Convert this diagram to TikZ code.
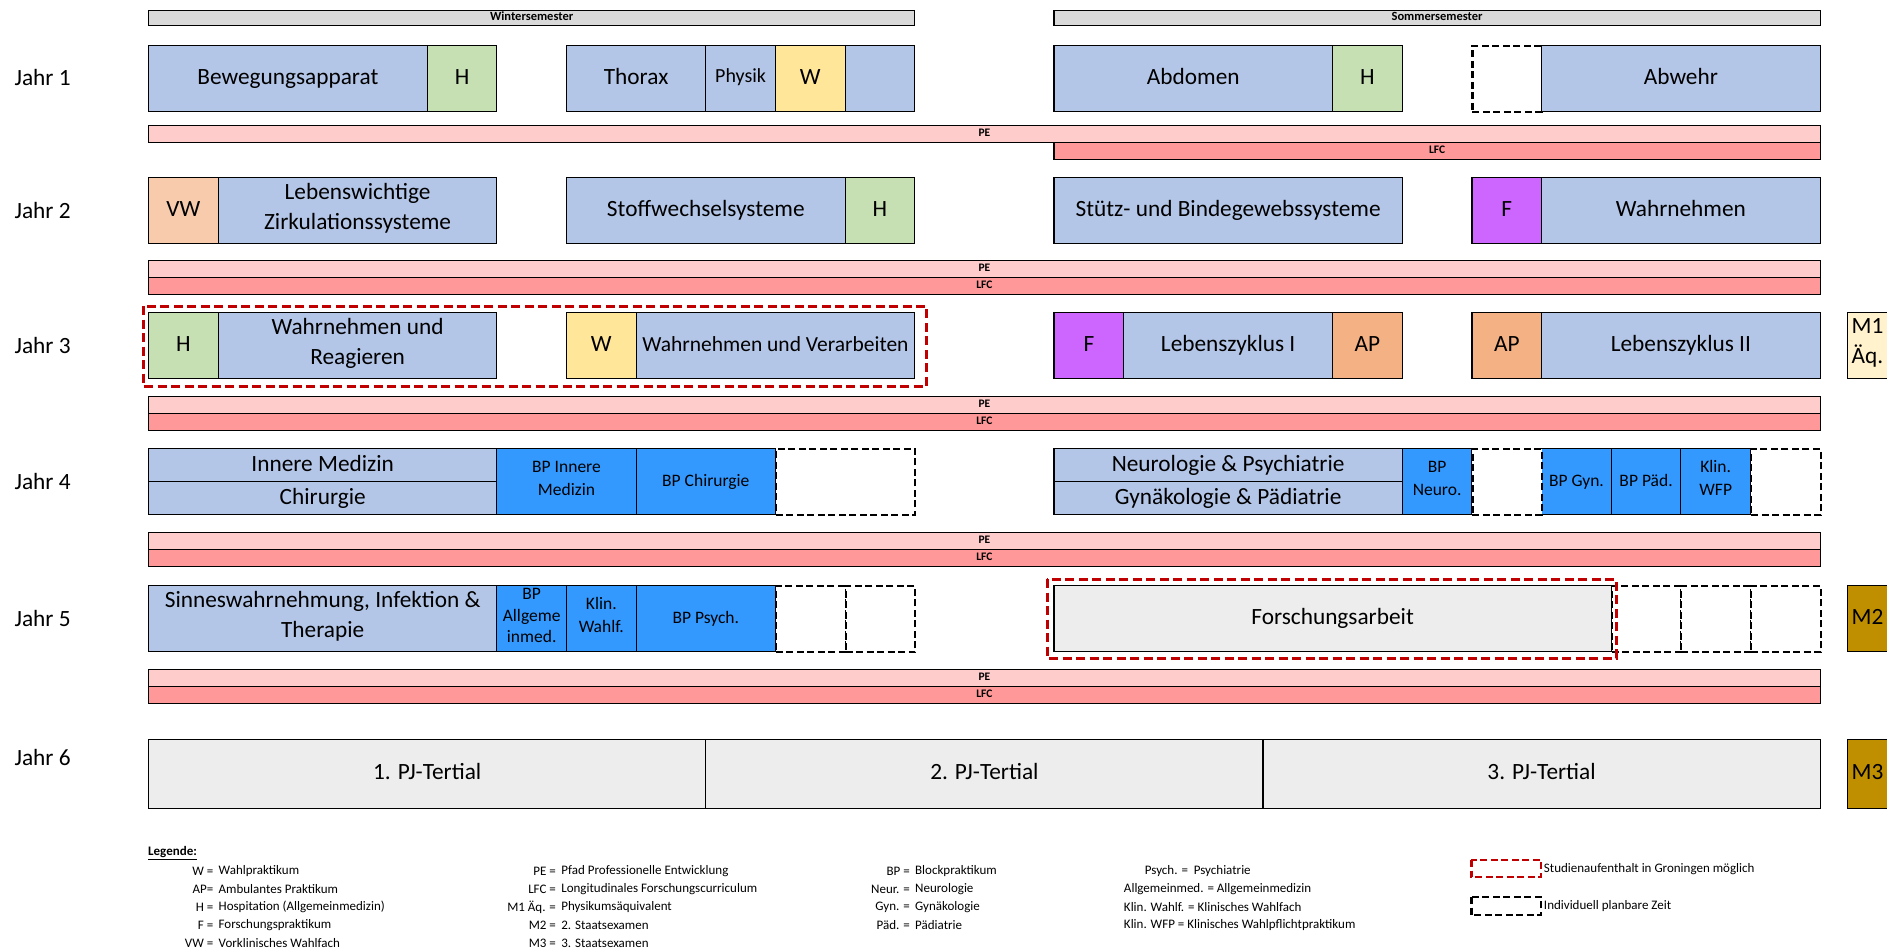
\documentclass[tikz,border=0pt]{standalone}
\usepackage{fontspec}
\setmainfont{Carlito}
\definecolor{modblue}{RGB}{180, 198, 231}
\definecolor{hospgreen}{RGB}{198, 224, 180}
\definecolor{wahlyellow}{RGB}{255, 230, 153}
\definecolor{vwpeach}{RGB}{248, 203, 173}
\definecolor{aporange}{RGB}{244, 177, 131}
\definecolor{fpurple}{RGB}{204, 102, 255}
\definecolor{bpblue}{RGB}{51, 153, 255}
\definecolor{pepink}{RGB}{255, 204, 204}
\definecolor{lfcred}{RGB}{255, 153, 153}
\definecolor{semgrey}{RGB}{217, 217, 217}
\definecolor{pjgrey}{RGB}{237, 237, 237}
\definecolor{mcream}{RGB}{255, 242, 204}
\definecolor{mgold}{RGB}{191, 143, 0}
\definecolor{grored}{RGB}{192, 0, 0}
\usetikzlibrary{positioning}

\begin{document}
\begin{tikzpicture}[x=69.647pt, y=-1pt,
  blk/.style={draw, line width=1.2pt, inner sep=0pt, anchor=north west, align=center,
    minimum height=66pt, fill=modblue, font=\fontsize{23.3}{30}\selectfont,
    execute at begin node=\strut, execute at end node=\strut},
  wd/.style={minimum width=#1*69.647pt},
  smallfs/.style={font=\fontsize{17.5}{23}\selectfont},
  halfh/.style={minimum height=33pt},
  freebox/.style={blk, fill=white, line width=2.2pt, dash pattern=on 7pt off 3.5pt},
  strip/.style={blk, minimum height=17pt, font=\bfseries\fontsize{11.5}{12}\selectfont},
  grobox/.style={draw=grored, line width=3pt, dash pattern=on 9pt off 4.5pt},
  jahrlbl/.style={anchor=west, inner sep=0pt, font=\fontsize{23.3}{28}\selectfont},
  lgkey/.style={anchor=east, inner sep=0pt, font=\fontsize{13}{15}\selectfont},
  lgtext/.style={anchor=west, inner sep=0pt, font=\fontsize{13}{15}\selectfont}]
  \useasboundingbox (-2.125,0) rectangle (24.968,950);

  % semesters
  \node[strip, wd=11, fill=semgrey, minimum height=15pt, font=\bfseries\fontsize{12.5}{13}\selectfont] (ws) at (0,10) {Wintersemester};
  \node[strip, wd=11, fill=semgrey, minimum height=15pt, font=\bfseries\fontsize{12.5}{13}\selectfont] (ss) at (13,10) {Sommersemester};

  % Jahr 1
  \node[jahrlbl] (j1) at (-1.918,77.5) {Jahr 1};
  \node[blk, wd=4] (bew) at (0,44.5) {Bewegungsapparat};
  \node[blk, wd=1, fill=hospgreen] (h1a) at (4,44.5) {H};
  \node[blk, wd=2] (tho) at (6,44.5) {Thorax};
  \node[blk, wd=1, font=\fontsize{20}{24}\selectfont] (phy) at (8,44.5) {Physik};
  \node[blk, wd=1, fill=wahlyellow] (w1) at (9,44.5) {W};
  \node[blk, wd=1] (bl1) at (10,44.5) {};
  \node[blk, wd=4] (abd) at (13,44.5) {Abdomen};
  \node[blk, wd=1, fill=hospgreen] (h1b) at (17,44.5) {H};
  \node[freebox, wd=1] (fr1) at (19,44.5) {};
  \node[blk, wd=4] (abw) at (20,44.5) {Abwehr};
  \node[strip, wd=24, fill=pepink] (pe1) at (0,125) {PE};
  \node[strip, wd=11, fill=lfcred] (lfc1) at (13,142) {LFC};

  % Jahr 2
  \node[jahrlbl] (j2) at (-1.918,210) {Jahr 2};
  \node[blk, wd=1, fill=vwpeach] (vw) at (0,177) {VW};
  \node[blk, wd=4] (lzs) at (1,177) {Lebenswichtige\\Zirkulationssysteme};
  \node[blk, wd=4] (sws) at (6,177) {Stoffwechselsysteme};
  \node[blk, wd=1, fill=hospgreen] (h2) at (10,177) {H};
  \node[blk, wd=5] (sbs) at (13,177) {Stütz- und Bindegewebssysteme};
  \node[blk, wd=1, fill=fpurple] (f2) at (19,177) {F};
  \node[blk, wd=4] (wah) at (20,177) {Wahrnehmen};
  \node[strip, wd=24, fill=pepink] (pe2) at (0,260) {PE};
  \node[strip, wd=24, fill=lfcred] (lfc2) at (0,277) {LFC};

  % Jahr 3
  \node[jahrlbl] (j3) at (-1.918,345) {Jahr 3};
  \node[blk, wd=1, fill=hospgreen] (h3) at (0,312) {H};
  \node[blk, wd=4] (wur) at (1,312) {Wahrnehmen und\\Reagieren};
  \node[blk, wd=1, fill=wahlyellow] (w3) at (6,312) {W};
  \node[blk, wd=4, font=\fontsize{21.5}{28}\selectfont] (wuv) at (7,312) {Wahrnehmen und Verarbeiten};
  \node[blk, wd=1, fill=fpurple] (f3) at (13,312) {F};
  \node[blk, wd=3] (lz1) at (14,312) {Lebenszyklus I};
  \node[blk, wd=1, fill=aporange] (ap3a) at (17,312) {AP};
  \node[blk, wd=1, fill=aporange] (ap3b) at (19,312) {AP};
  \node[blk, wd=4] (lz2) at (20,312) {Lebenszyklus II};
  \node[blk, wd=0.578, fill=mcream] (m1) at (24.39,312) {M1\\Äq.};
  \draw[grobox] (-0.07,306) rectangle (11.18,386);
  \node[strip, wd=24, fill=pepink] (pe3) at (0,396) {PE};
  \node[strip, wd=24, fill=lfcred] (lfc3) at (0,413) {LFC};

  % Jahr 4
  \node[jahrlbl] (j4) at (-1.918,481) {Jahr 4};
  \node[blk, wd=5, halfh] (inn) at (0,448) {Innere Medizin};
  \node[blk, wd=5, halfh] (chi) at (0,481) {Chirurgie};
  \node[blk, wd=2, fill=bpblue, smallfs] (bpim) at (5,448) {BP Innere\\Medizin};
  \node[blk, wd=2, fill=bpblue, smallfs] (bpch) at (7,448) {BP Chirurgie};
  \node[freebox, wd=2] (fr4a) at (9,448) {};
  \node[blk, wd=5, halfh] (nup) at (13,448) {Neurologie \& Psychiatrie};
  \node[blk, wd=5, halfh] (gyp) at (13,481) {Gynäkologie \& Pädiatrie};
  \node[blk, wd=1, fill=bpblue, smallfs] (bpne) at (18,448) {BP\\Neuro.};
  \node[blk, wd=1, fill=bpblue, smallfs] (bpgy) at (20,448) {BP Gyn.};
  \node[blk, wd=1, fill=bpblue, smallfs] (bppa) at (21,448) {BP Päd.};
  \node[blk, wd=1, fill=bpblue, smallfs] (kwfp) at (22,448) {Klin.\\WFP};
  \node[freebox, wd=1] (fr4b) at (19,448) {};
  \node[freebox, wd=1] (fr4c) at (23,448) {};
  \node[strip, wd=24, fill=pepink] (pe4) at (0,532) {PE};
  \node[strip, wd=24, fill=lfcred] (lfc4) at (0,549) {LFC};

  % Jahr 5
  \node[jahrlbl] (j5) at (-1.918,618) {Jahr 5};
  \node[blk, wd=5] (swi) at (0,585) {Sinneswahrnehmung, Infektion \&\\Therapie};
  \node[blk, wd=1, fill=bpblue, font=\fontsize{17.5}{21.5}\selectfont] (bpam) at (5,585) {BP\\Allgeme\\inmed.};
  \node[blk, wd=1, fill=bpblue, smallfs] (kwa) at (6,585) {Klin.\\Wahlf.};
  \node[blk, wd=2, fill=bpblue, smallfs] (bpps) at (7,585) {BP Psych.};
  \node[freebox, wd=1] (fr5a) at (9,585) {};
  \node[freebox, wd=1] (fr5b) at (10,585) {};
  \node[blk, wd=8, fill=pjgrey] (fsa) at (13,585) {Forschungsarbeit};
  \node[freebox, wd=1] (fr5c) at (21,585) {};
  \node[freebox, wd=1] (fr5d) at (22,585) {};
  \node[freebox, wd=1] (fr5e) at (23,585) {};
  \node[blk, wd=0.578, fill=mgold] (m2) at (24.39,585) {M2};
  \draw[grobox] (12.91,579) rectangle (21.08,658);
  \node[strip, wd=24, fill=pepink] (pe5) at (0,669) {PE};
  \node[strip, wd=24, fill=lfcred] (lfc5) at (0,686) {LFC};

  % Jahr 6
  \node[jahrlbl] (j6) at (-1.918,757) {Jahr 6};
  \node[blk, wd=8, fill=pjgrey, minimum height=68.5pt] (pj1) at (0,739) {1. PJ-Tertial};
  \node[blk, wd=8, fill=pjgrey, minimum height=68.5pt] (pj2) at (8,739) {2. PJ-Tertial};
  \node[blk, wd=8, fill=pjgrey, minimum height=68.5pt] (pj3) at (16,739) {3. PJ-Tertial};
  \node[blk, wd=0.578, fill=mgold, minimum height=68.5pt] (m3) at (24.39,739) {M3};

  % Legende
  \node[lgtext, font=\bfseries\fontsize{13}{15}\selectfont] (leg) at (0,853) {\underline{Legende:}};
  \node[lgkey] (lk1) at (0.94,871) {W =};
  \node[lgkey] (lk2) at (0.94,889) {AP=};
  \node[lgkey] (lk3) at (0.94,907) {H =};
  \node[lgkey] (lk4) at (0.94,925) {F =};
  \node[lgkey] (lk5) at (0.94,943) {VW =};
  \node[lgtext, right=5pt of lk1] (lv1) {Wahlpraktikum};
  \node[lgtext, right=5pt of lk2] (lv2) {Ambulantes Praktikum};
  \node[lgtext, right=5pt of lk3] (lv3) {Hospitation (Allgemeinmedizin)};
  \node[lgtext, right=5pt of lk4] (lv4) {Forschungspraktikum};
  \node[lgtext, right=5pt of lk5] (lv5) {Vorklinisches Wahlfach};

  \node[lgkey] (lk6) at (5.86,871) {PE =};
  \node[lgkey] (lk7) at (5.86,889) {LFC =};
  \node[lgkey] (lk8) at (5.86,907) {M1 Äq. =};
  \node[lgkey] (lk9) at (5.86,925) {M2 =};
  \node[lgkey] (lk10) at (5.86,943) {M3 =};
  \node[lgtext, right=5pt of lk6] (lv6) {Pfad Professionelle Entwicklung};
  \node[lgtext, right=5pt of lk7] (lv7) {Longitudinales Forschungscurriculum};
  \node[lgtext, right=5pt of lk8] (lv8) {Physikumsäquivalent};
  \node[lgtext, right=5pt of lk9] (lv9) {2. Staatsexamen};
  \node[lgtext, right=5pt of lk10] (lv10) {3. Staatsexamen};

  \node[lgkey] (lk11) at (10.94,871) {BP =};
  \node[lgkey] (lk12) at (10.94,889) {Neur. =};
  \node[lgkey] (lk13) at (10.94,907) {Gyn. =};
  \node[lgkey] (lk14) at (10.94,925) {Päd. =};
  \node[lgtext, right=5pt of lk11] (lv11) {Blockpraktikum};
  \node[lgtext, right=5pt of lk12] (lv12) {Neurologie};
  \node[lgtext, right=5pt of lk13] (lv13) {Gynäkologie};
  \node[lgtext, right=5pt of lk14] (lv14) {Pädiatrie};

  \node[lgtext] (lv15) at (14.31,871) {Psych. = \ Psychiatrie};
  \node[lgtext] (lv16) at (14.01,889) {Allgemeinmed. = Allgemeinmedizin};
  \node[lgtext] (lv17) at (14.01,907) {Klin. Wahlf. = Klinisches Wahlfach};
  \node[lgtext] (lv18) at (14.01,925) {Klin. WFP = Klinisches Wahlpflichtpraktikum};

  \draw[grobox, line width=2.6pt, dash pattern=on 7pt off 3.5pt] (19,860) rectangle (20,877);
  \node[lgtext] (lv19) at (20.04,869) {Studienaufenthalt in Groningen möglich};
  \draw[line width=2.4pt, dash pattern=on 7pt off 3.5pt] (19,897) rectangle (20,915);
  \node[lgtext] (lv20) at (20.04,906) {Individuell planbare Zeit};
\end{tikzpicture}
\end{document}
